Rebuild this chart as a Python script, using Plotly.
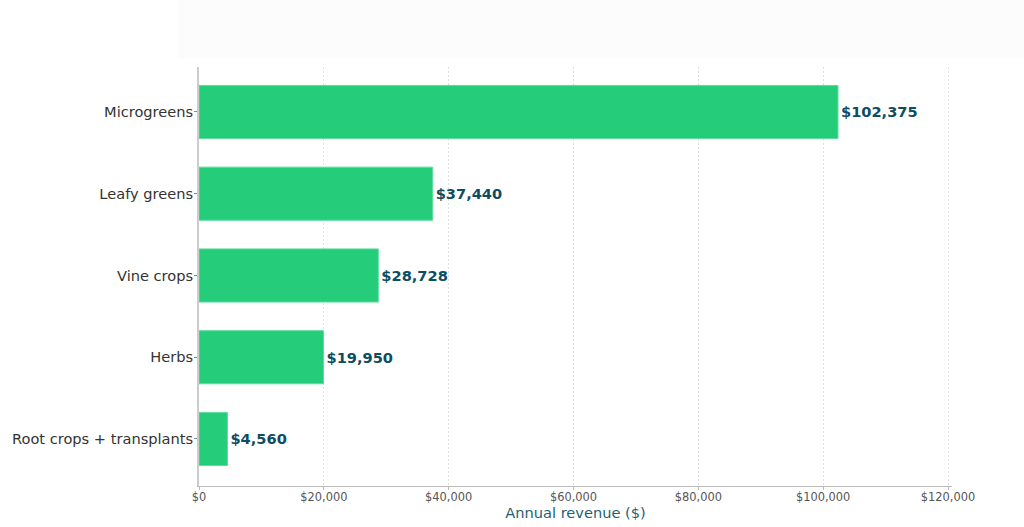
import plotly.graph_objects as go

categories = ["Microgreens", "Leafy greens", "Vine crops", "Herbs", "Root crops + transplants"]
revenue = [102375, 37440, 28728, 19950, 4560]
tick_values = [0, 20000, 40000, 60000, 80000, 100000, 120000]
tick_labels = ["$0", "$20,000", "$40,000", "$60,000", "$80,000", "$100,000", "$120,000"]

labels = [f"${v:,}" for v in revenue]

fig = go.Figure(
    go.Bar(
        x=revenue,
        y=categories,
        orientation="h",
        width=0.65,
        marker=dict(color="#25CD7B", line=dict(color="#5EDC9E", width=1)),
        text=labels,
        textposition="outside",
        textfont=dict(family="DejaVu Sans", size=14.6, color="#0E4D5F", weight="bold"),
        cliponaxis=False,
    )
)

# faint header band above the plot
fig.add_shape(
    type="rect", xref="paper", yref="paper",
    x0=-0.028, x1=1.1, y0=1.02, y1=1.16,
    fillcolor="#FCFCFC", line=dict(width=0), layer="below",
)

fig.update_layout(
    width=1024,
    height=527,
    margin=dict(l=199, r=72, t=67, b=41, autoexpand=False),
    paper_bgcolor="white",
    plot_bgcolor="white",
    font=dict(family="DejaVu Sans", color="#333333"),
    showlegend=False,
    bargap=0.35,
)

fig.update_xaxes(
    automargin=False,
    range=[0, 120640],
    tickvals=tick_values,
    ticktext=tick_labels,
    tickfont=dict(size=11.4, color="#555555"),
    ticks="outside",
    ticklen=3,
    tickcolor="#BBBBBB",
    ticklabelstandoff=-3,
    showline=True,
    linecolor="#BBBBBB",
    linewidth=1,
    showgrid=True,
    gridcolor="#E0E0E0",
    griddash="2px,2px",
    gridwidth=1,
    zeroline=False,
    title=dict(text="Annual revenue ($)", font=dict(size=14.6, color="#1F5F73"), standoff=2),
)

fig.update_yaxes(
    automargin=False,
    categoryorder="array",
    categoryarray=categories,
    range=[4.575, -0.55],
    tickfont=dict(size=14.6, color="#333333"),
    ticks="outside",
    ticklen=3,
    tickcolor="#888888",
    ticklabelstandoff=-2,
    showline=True,
    linecolor="#CCCCCC",
    linewidth=2,
    showgrid=False,
    zeroline=False,
)

fig.write_html("out.html")
